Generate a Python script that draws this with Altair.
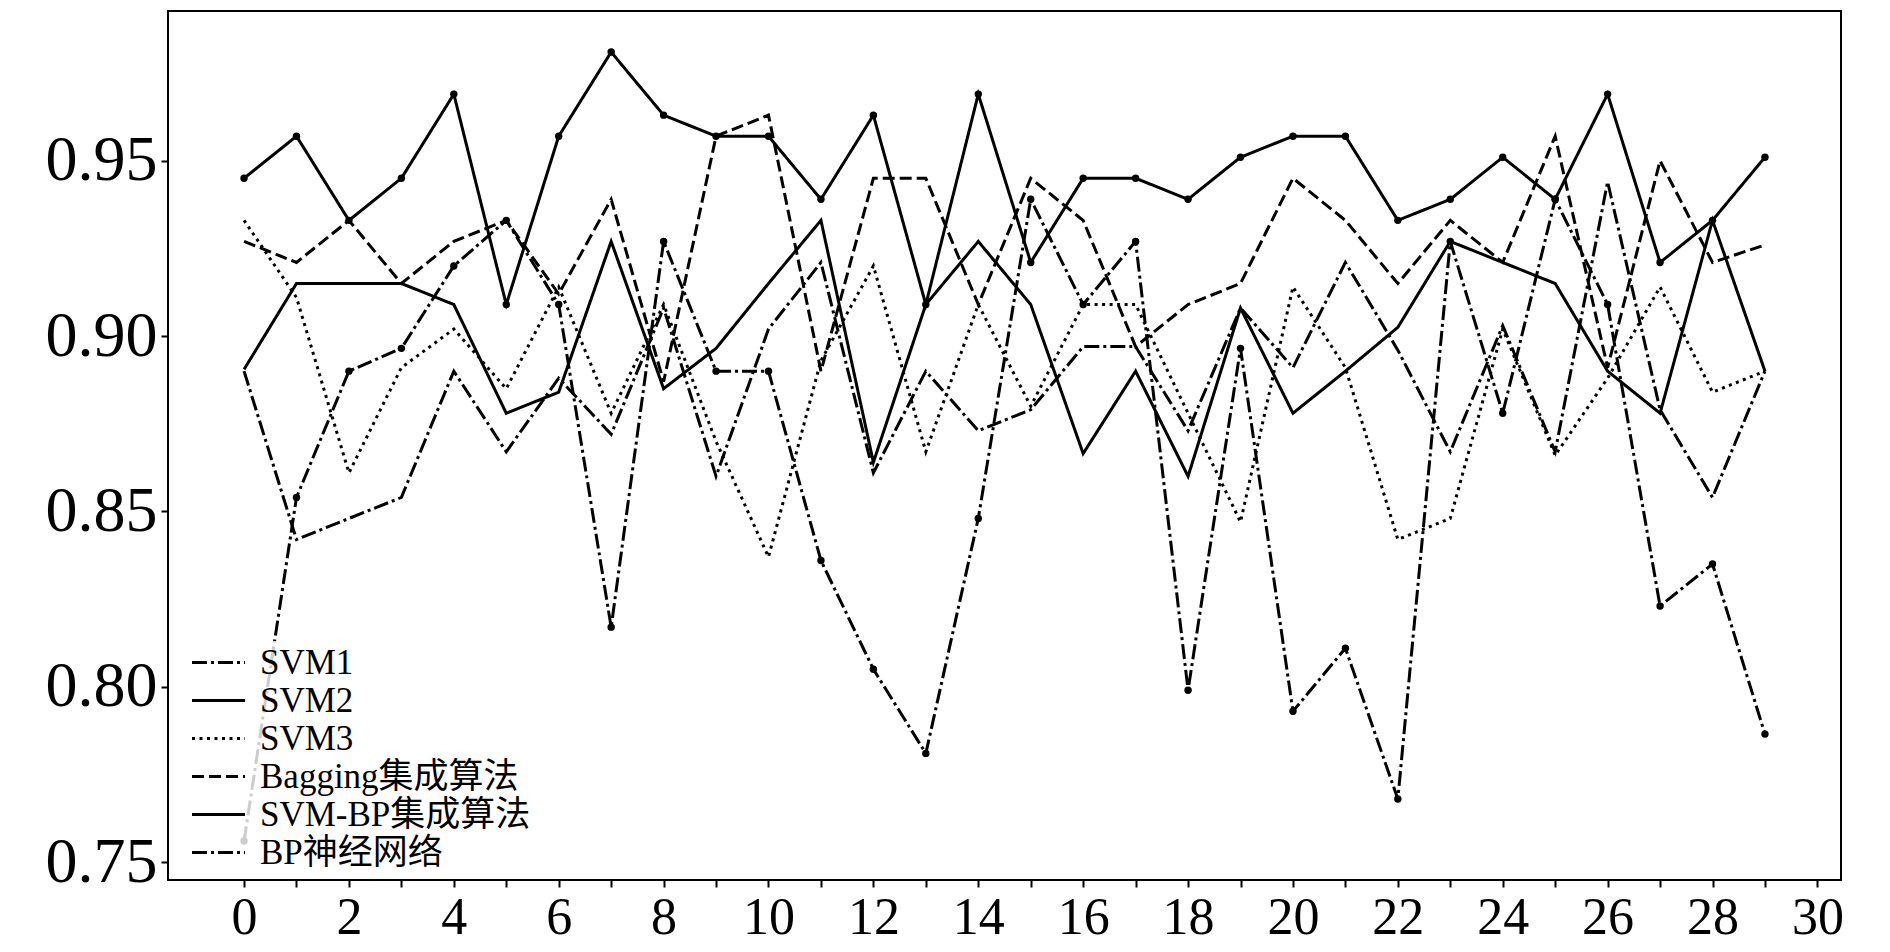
import altair as alt
import pandas as pd

x_index = list(range(30))

svm1 = [0.890, 0.842, 0.848, 0.854, 0.890, 0.867, 0.888, 0.872, 0.908, 0.860,
        0.902, 0.921, 0.861, 0.890, 0.873, 0.879, 0.897, 0.897, 0.873, 0.908,
        0.891, 0.921, 0.896, 0.867, 0.903, 0.867, 0.944, 0.879, 0.854, 0.890]
svm2 = [0.8905, 0.915, 0.915, 0.915, 0.909, 0.878, 0.884, 0.927, 0.885, 0.8965,
        0.915, 0.933, 0.864, 0.909, 0.927, 0.909, 0.8665, 0.890, 0.860, 0.908,
        0.878, 0.890, 0.9025, 0.927, 0.921, 0.915, 0.890, 0.878, 0.933, 0.890]
svm3 = [0.933, 0.911, 0.861, 0.891, 0.902, 0.885, 0.914, 0.878, 0.909, 0.870,
        0.837, 0.893, 0.920, 0.867, 0.909, 0.880, 0.909, 0.909, 0.878, 0.847,
        0.914, 0.891, 0.842, 0.848, 0.902, 0.866, 0.888, 0.914, 0.884, 0.890]
bagging = [0.927, 0.921, 0.933, 0.915, 0.927, 0.933, 0.912, 0.939, 0.887, 0.957,
           0.963, 0.890, 0.945, 0.945, 0.909, 0.945, 0.933, 0.897, 0.909, 0.915,
           0.945, 0.933, 0.915, 0.933, 0.921, 0.957, 0.891, 0.950, 0.921, 0.926]
svm_bp = [0.945, 0.957, 0.933, 0.945, 0.969, 0.909, 0.957, 0.981, 0.963, 0.957,
          0.957, 0.939, 0.963, 0.909, 0.969, 0.921, 0.945, 0.945, 0.939, 0.951,
          0.957, 0.957, 0.933, 0.939, 0.951, 0.939, 0.969, 0.921, 0.933, 0.951]
bp = [0.756, 0.854, 0.890, 0.8965, 0.920, 0.933, 0.909, 0.817, 0.927, 0.890,
      0.890, 0.836, 0.805, 0.781, 0.848, 0.939, 0.909, 0.927, 0.799, 0.8965,
      0.793, 0.811, 0.768, 0.927, 0.878, 0.939, 0.909, 0.823, 0.835, 0.7865]

names = ["SVM1", "SVM2", "SVM3", "Bagging集成算法", "SVM-BP集成算法", "BP神经网络"]
series_values = [svm1, svm2, svm3, bagging, svm_bp, bp]
dashes = [[15, 4, 3, 4], [1, 0], [3, 4.5], [12, 5], [1, 0], [15, 4, 3, 4]]
marked = ["SVM-BP集成算法", "BP神经网络"]

y_ticks = [0.75, 0.80, 0.85, 0.90, 0.95]
x_ticks = list(range(31))

rows = []
for name, vals in zip(names, series_values):
    for i, v in zip(x_index, vals):
        rows.append({"x": i, "value": v, "series": name})
df = pd.DataFrame(rows)

FONT = "Liberation Serif, Times New Roman, Noto Sans CJK SC"

x_scale = alt.Scale(domain=[-1.45, 30.45], nice=False, zero=False)
y_scale = alt.Scale(domain=[0.7449, 0.9927], nice=False, zero=False)

x_enc = alt.X("x:Q", scale=x_scale, axis=alt.Axis(
    values=x_ticks, title=None, grid=False, domain=False,
    labelExpr="datum.value % 2 == 0 ? datum.label : ''",
    labelFont=FONT, labelFontSize=52, labelColor="black", labelPadding=5,
    tickSize=7, tickColor="black", tickWidth=2, labelFlush=False))
y_enc = alt.Y("value:Q", scale=y_scale, axis=alt.Axis(
    values=y_ticks, format=".2f", title=None, grid=False, domain=False,
    labelFont=FONT, labelFontSize=64, labelColor="black", labelPadding=4,
    tickSize=7, tickColor="black", tickWidth=2, labelFlush=False))

lines = alt.Chart(df).mark_line(color="black", strokeWidth=3).encode(
    x=x_enc,
    y=y_enc,
    detail="series:N",
    strokeDash=alt.StrokeDash("series:N", sort=names,
        scale=alt.Scale(domain=names, range=dashes),
        legend=alt.Legend(
            title=None, orient="none", legendX=29, legendY=630,
            symbolType="M-1.767,0L1.767,0", symbolSize=900, symbolStrokeWidth=3,
            symbolStrokeColor="black", symbolFillColor="transparent",
            labelFont=FONT, labelFontSize=35,
            labelColor="black", labelOffset=24, rowPadding=2, padding=4,
            fillColor="rgba(255,255,255,0.8)", labelLimit=400)),
)

points = alt.Chart(df).transform_filter(
    alt.FieldOneOfPredicate(field="series", oneOf=marked)
).mark_circle(color="black", size=55, opacity=1).encode(x=x_enc, y=y_enc)

chart = alt.layer(lines, points).properties(
    width=1673, height=869,
    padding={"left": 160, "top": 3, "right": 41, "bottom": 64},
    autosize=alt.AutoSizeParams(type="none"),
    background="white",
).configure_view(stroke="black", strokeWidth=2, fill="white")

chart.save("out.html", embed_options={"renderer": "svg", "actions": False})
